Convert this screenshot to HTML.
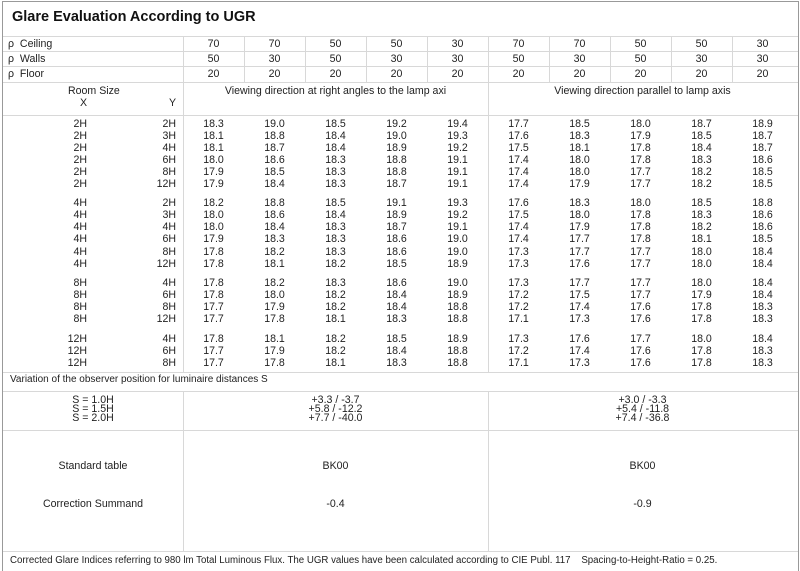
<!DOCTYPE html>
<html><head><meta charset="utf-8"><style>
*{margin:0;padding:0;box-sizing:border-box}
body{width:800px;height:571px;background:#fff;position:relative;overflow:hidden;font-family:"Liberation Sans","DejaVu Sans",sans-serif;font-size:10.6px;color:#222}
.h{position:absolute;height:1px;background:#d8d8d8}
.v{position:absolute;width:1px;background:#d8d8d8}
.t{position:absolute;white-space:nowrap;line-height:12px}
.r{position:absolute;left:0;height:12px;line-height:12px;display:flex;white-space:nowrap}
.r span{display:block}
.r .x{width:87px;text-align:right}
.r .y{width:89px;text-align:right}
.r .g{width:7px}
.r .c{width:61px;text-align:center}
</style></head><body>
<div style="position:absolute;left:2px;top:1px;width:797px;height:570px;border:1px solid #999;border-bottom:none"></div>
<div style="position:absolute;left:12px;top:9px;font-weight:bold;font-size:14.5px;color:#111">Glare Evaluation According to UGR</div>
<div class="h" style="left:3px;top:36px;width:795px"></div>
<div class="h" style="left:3px;top:51px;width:795px"></div>
<div class="h" style="left:3px;top:66px;width:795px"></div>
<div class="h" style="left:3px;top:82px;width:795px"></div>
<div class="h" style="left:3px;top:115px;width:795px"></div>
<div class="h" style="left:3px;top:372px;width:795px"></div>
<div class="h" style="left:3px;top:391px;width:795px"></div>
<div class="h" style="left:3px;top:430px;width:795px"></div>
<div class="h" style="left:3px;top:551px;width:795px"></div>
<div class="v" style="left:183px;top:36px;height:336px"></div>
<div class="v" style="left:183px;top:391px;height:160px"></div>
<div class="v" style="left:488px;top:36px;height:336px"></div>
<div class="v" style="left:488px;top:391px;height:160px"></div>
<div class="v" style="left:244px;top:36px;height:46px"></div>
<div class="v" style="left:305px;top:36px;height:46px"></div>
<div class="v" style="left:366px;top:36px;height:46px"></div>
<div class="v" style="left:427px;top:36px;height:46px"></div>
<div class="v" style="left:549px;top:36px;height:46px"></div>
<div class="v" style="left:610px;top:36px;height:46px"></div>
<div class="v" style="left:671px;top:36px;height:46px"></div>
<div class="v" style="left:732px;top:36px;height:46px"></div>

<div class="t" style="left:8px;top:38px">ρ&nbsp; Ceiling</div>
<div class="t" style="left:8px;top:53px">ρ&nbsp; Walls</div>
<div class="t" style="left:8px;top:68px">ρ&nbsp; Floor</div>
<div class="r" style="top:38px"><span style="width:183px"></span><span class="c">70</span><span class="c">70</span><span class="c">50</span><span class="c">50</span><span class="c">30</span><span class="c">70</span><span class="c">70</span><span class="c">50</span><span class="c">50</span><span class="c">30</span></div>
<div class="r" style="top:53px"><span style="width:183px"></span><span class="c">50</span><span class="c">30</span><span class="c">50</span><span class="c">30</span><span class="c">30</span><span class="c">50</span><span class="c">30</span><span class="c">50</span><span class="c">30</span><span class="c">30</span></div>
<div class="r" style="top:68px"><span style="width:183px"></span><span class="c">20</span><span class="c">20</span><span class="c">20</span><span class="c">20</span><span class="c">20</span><span class="c">20</span><span class="c">20</span><span class="c">20</span><span class="c">20</span><span class="c">20</span></div>

<div class="t" style="left:68px;top:85px">Room Size</div>
<div class="t" style="left:80px;top:97px">X</div>
<div class="t" style="left:169px;top:97px">Y</div>
<div class="t" style="left:183px;top:85px;width:305px;text-align:center">Viewing direction at right angles to the lamp axi</div>
<div class="t" style="left:488px;top:85px;width:309px;text-align:center">Viewing direction parallel to lamp axis</div>

<div class="r" style="top:118px"><span class="x">2H</span><span class="y">2H</span><span class="g"></span><span class="c">18.3</span><span class="c">19.0</span><span class="c">18.5</span><span class="c">19.2</span><span class="c">19.4</span><span class="c">17.7</span><span class="c">18.5</span><span class="c">18.0</span><span class="c">18.7</span><span class="c">18.9</span></div>
<div class="r" style="top:130px"><span class="x">2H</span><span class="y">3H</span><span class="g"></span><span class="c">18.1</span><span class="c">18.8</span><span class="c">18.4</span><span class="c">19.0</span><span class="c">19.3</span><span class="c">17.6</span><span class="c">18.3</span><span class="c">17.9</span><span class="c">18.5</span><span class="c">18.7</span></div>
<div class="r" style="top:142px"><span class="x">2H</span><span class="y">4H</span><span class="g"></span><span class="c">18.1</span><span class="c">18.7</span><span class="c">18.4</span><span class="c">18.9</span><span class="c">19.2</span><span class="c">17.5</span><span class="c">18.1</span><span class="c">17.8</span><span class="c">18.4</span><span class="c">18.7</span></div>
<div class="r" style="top:154px"><span class="x">2H</span><span class="y">6H</span><span class="g"></span><span class="c">18.0</span><span class="c">18.6</span><span class="c">18.3</span><span class="c">18.8</span><span class="c">19.1</span><span class="c">17.4</span><span class="c">18.0</span><span class="c">17.8</span><span class="c">18.3</span><span class="c">18.6</span></div>
<div class="r" style="top:166px"><span class="x">2H</span><span class="y">8H</span><span class="g"></span><span class="c">17.9</span><span class="c">18.5</span><span class="c">18.3</span><span class="c">18.8</span><span class="c">19.1</span><span class="c">17.4</span><span class="c">18.0</span><span class="c">17.7</span><span class="c">18.2</span><span class="c">18.5</span></div>
<div class="r" style="top:178px"><span class="x">2H</span><span class="y">12H</span><span class="g"></span><span class="c">17.9</span><span class="c">18.4</span><span class="c">18.3</span><span class="c">18.7</span><span class="c">19.1</span><span class="c">17.4</span><span class="c">17.9</span><span class="c">17.7</span><span class="c">18.2</span><span class="c">18.5</span></div>

<div class="r" style="top:197px"><span class="x">4H</span><span class="y">2H</span><span class="g"></span><span class="c">18.2</span><span class="c">18.8</span><span class="c">18.5</span><span class="c">19.1</span><span class="c">19.3</span><span class="c">17.6</span><span class="c">18.3</span><span class="c">18.0</span><span class="c">18.5</span><span class="c">18.8</span></div>
<div class="r" style="top:209px"><span class="x">4H</span><span class="y">3H</span><span class="g"></span><span class="c">18.0</span><span class="c">18.6</span><span class="c">18.4</span><span class="c">18.9</span><span class="c">19.2</span><span class="c">17.5</span><span class="c">18.0</span><span class="c">17.8</span><span class="c">18.3</span><span class="c">18.6</span></div>
<div class="r" style="top:221px"><span class="x">4H</span><span class="y">4H</span><span class="g"></span><span class="c">18.0</span><span class="c">18.4</span><span class="c">18.3</span><span class="c">18.7</span><span class="c">19.1</span><span class="c">17.4</span><span class="c">17.9</span><span class="c">17.8</span><span class="c">18.2</span><span class="c">18.6</span></div>
<div class="r" style="top:233px"><span class="x">4H</span><span class="y">6H</span><span class="g"></span><span class="c">17.9</span><span class="c">18.3</span><span class="c">18.3</span><span class="c">18.6</span><span class="c">19.0</span><span class="c">17.4</span><span class="c">17.7</span><span class="c">17.8</span><span class="c">18.1</span><span class="c">18.5</span></div>
<div class="r" style="top:246px"><span class="x">4H</span><span class="y">8H</span><span class="g"></span><span class="c">17.8</span><span class="c">18.2</span><span class="c">18.3</span><span class="c">18.6</span><span class="c">19.0</span><span class="c">17.3</span><span class="c">17.7</span><span class="c">17.7</span><span class="c">18.0</span><span class="c">18.4</span></div>
<div class="r" style="top:258px"><span class="x">4H</span><span class="y">12H</span><span class="g"></span><span class="c">17.8</span><span class="c">18.1</span><span class="c">18.2</span><span class="c">18.5</span><span class="c">18.9</span><span class="c">17.3</span><span class="c">17.6</span><span class="c">17.7</span><span class="c">18.0</span><span class="c">18.4</span></div>

<div class="r" style="top:277px"><span class="x">8H</span><span class="y">4H</span><span class="g"></span><span class="c">17.8</span><span class="c">18.2</span><span class="c">18.3</span><span class="c">18.6</span><span class="c">19.0</span><span class="c">17.3</span><span class="c">17.7</span><span class="c">17.7</span><span class="c">18.0</span><span class="c">18.4</span></div>
<div class="r" style="top:289px"><span class="x">8H</span><span class="y">6H</span><span class="g"></span><span class="c">17.8</span><span class="c">18.0</span><span class="c">18.2</span><span class="c">18.4</span><span class="c">18.9</span><span class="c">17.2</span><span class="c">17.5</span><span class="c">17.7</span><span class="c">17.9</span><span class="c">18.4</span></div>
<div class="r" style="top:301px"><span class="x">8H</span><span class="y">8H</span><span class="g"></span><span class="c">17.7</span><span class="c">17.9</span><span class="c">18.2</span><span class="c">18.4</span><span class="c">18.8</span><span class="c">17.2</span><span class="c">17.4</span><span class="c">17.6</span><span class="c">17.8</span><span class="c">18.3</span></div>
<div class="r" style="top:313px"><span class="x">8H</span><span class="y">12H</span><span class="g"></span><span class="c">17.7</span><span class="c">17.8</span><span class="c">18.1</span><span class="c">18.3</span><span class="c">18.8</span><span class="c">17.1</span><span class="c">17.3</span><span class="c">17.6</span><span class="c">17.8</span><span class="c">18.3</span></div>

<div class="r" style="top:333px"><span class="x">12H</span><span class="y">4H</span><span class="g"></span><span class="c">17.8</span><span class="c">18.1</span><span class="c">18.2</span><span class="c">18.5</span><span class="c">18.9</span><span class="c">17.3</span><span class="c">17.6</span><span class="c">17.7</span><span class="c">18.0</span><span class="c">18.4</span></div>
<div class="r" style="top:345px"><span class="x">12H</span><span class="y">6H</span><span class="g"></span><span class="c">17.7</span><span class="c">17.9</span><span class="c">18.2</span><span class="c">18.4</span><span class="c">18.8</span><span class="c">17.2</span><span class="c">17.4</span><span class="c">17.6</span><span class="c">17.8</span><span class="c">18.3</span></div>
<div class="r" style="top:357px"><span class="x">12H</span><span class="y">8H</span><span class="g"></span><span class="c">17.7</span><span class="c">17.8</span><span class="c">18.1</span><span class="c">18.3</span><span class="c">18.8</span><span class="c">17.1</span><span class="c">17.3</span><span class="c">17.6</span><span class="c">17.8</span><span class="c">18.3</span></div>

<div class="t" style="left:10px;top:374px;font-size:10px">Variation of the observer position for luminaire distances S</div>
<div class="t" style="left:3px;top:396px;width:180px;text-align:center;line-height:9px">S = 1.0H<br>S = 1.5H<br>S = 2.0H</div>
<div class="t" style="left:183px;top:396px;width:305px;text-align:center;line-height:9px">+3.3 / -3.7<br>+5.8 / -12.2<br>+7.7 / -40.0</div>
<div class="t" style="left:488px;top:396px;width:309px;text-align:center;line-height:9px">+3.0 / -3.3<br>+5.4 / -11.8<br>+7.4 / -36.8</div>
<div class="t" style="left:3px;top:460px;width:180px;text-align:center">Standard table</div>
<div class="t" style="left:183px;top:460px;width:305px;text-align:center">BK00</div>
<div class="t" style="left:488px;top:460px;width:309px;text-align:center">BK00</div>
<div class="t" style="left:3px;top:498px;width:180px;text-align:center">Correction Summand</div>
<div class="t" style="left:183px;top:498px;width:305px;text-align:center">-0.4</div>
<div class="t" style="left:488px;top:498px;width:309px;text-align:center">-0.9</div>
<div class="t" style="left:10px;top:555px;font-size:9.7px">Corrected Glare Indices referring to 980 lm Total Luminous Flux. The UGR values have been calculated according to CIE Publ. 117 &nbsp;&nbsp; Spacing-to-Height-Ratio = 0.25.</div>
</body></html>
